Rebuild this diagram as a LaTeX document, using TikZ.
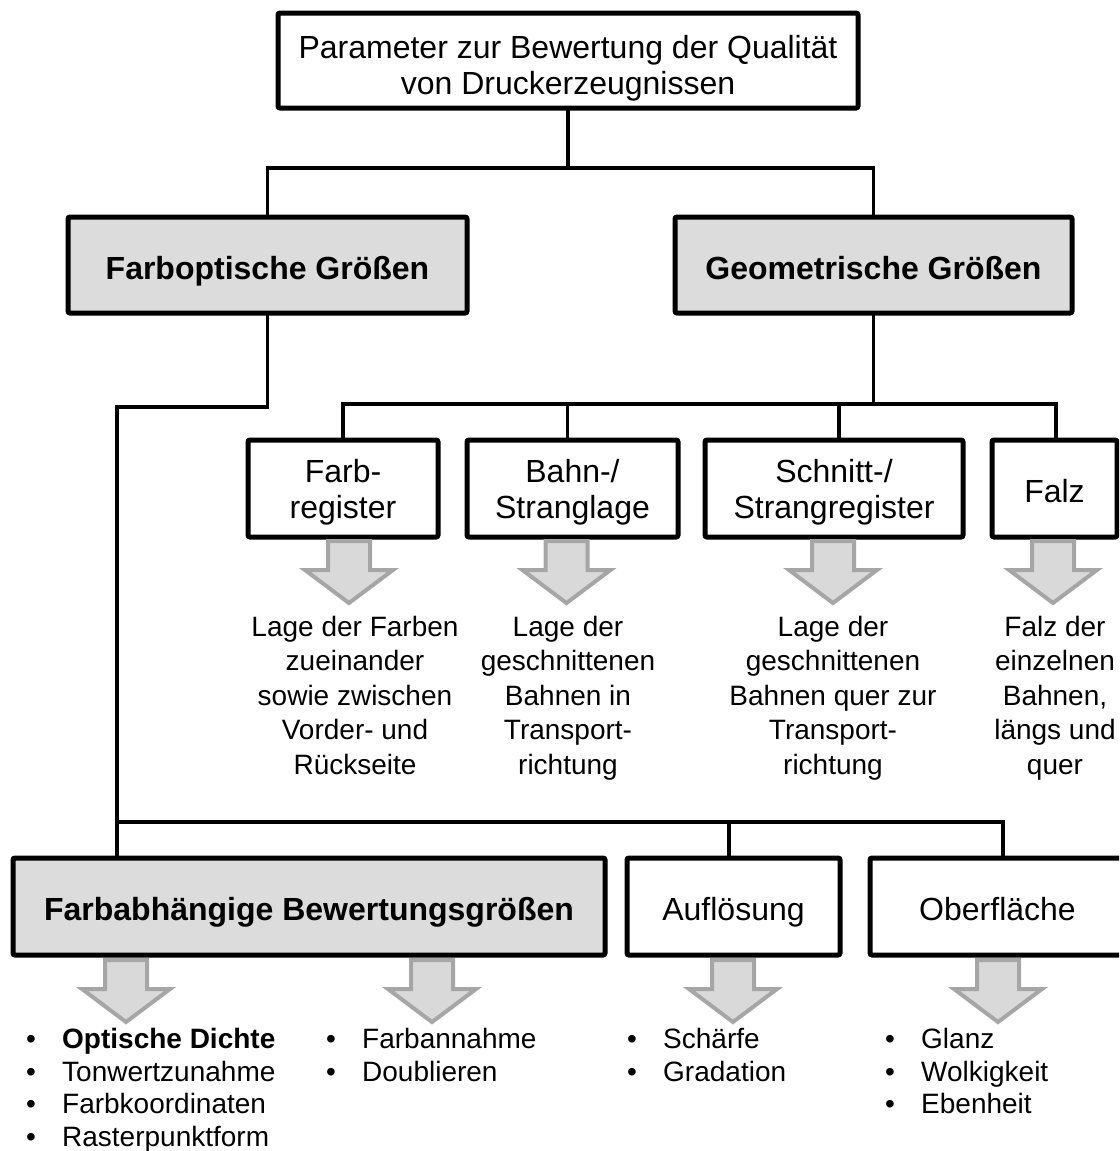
\documentclass[tikz,border=0pt]{standalone}
\usepackage{fontspec}
\setmainfont{Liberation Sans}
\usetikzlibrary{calc}

\definecolor{boxgray}{RGB}{220,220,220}
\definecolor{arrowfill}{RGB}{217,217,217}
\definecolor{arrowline}{RGB}{166,166,166}

% font sizes: box labels, explanatory text, bullet lists
\newcommand\hdfont{\fontsize{32}{36}\selectfont}
\newcommand\txfont{\fontsize{28}{34.5}\selectfont}
\newcommand\lsfont{\fontsize{28}{32.7}\selectfont}
% one entry of a bullet list
\newcommand\bulletentry[1]{\makebox[36pt][l]{•}#1}

\tikzset{
  box/.style={draw, line width=5pt, rounded corners=2pt, fill=white,
    align=center, inner sep=0pt, outer sep=0pt, font=\hdfont},
  oneline/.style={text height=28pt, text depth=1pt},
  twoline/.style={align=flush center, text width=#1,
    text height=20pt, text depth=32pt},
  graybox/.style={box, fill=boxgray, font=\hdfont\bfseries,
    text height=30pt, text depth=1pt},
  conn/.style={line width=3.5pt},
  note/.style={align=center, inner sep=0pt, anchor=north, font=\txfont},
  blist/.style={align=left, inner sep=0pt, anchor=north west, font=\lsfont},
  arrowstyle/.style={fill=arrowfill, draw=arrowline, line width=4pt},
  pics/downarrow/.style={code={
    \draw[arrowstyle] (-21,0) -- (21,0) -- (21,29) -- (44,29) -- (0,62)
      -- (-44,29) -- (-21,29) -- cycle;}}
}

\begin{document}
\begin{tikzpicture}[x=1pt,y=-1pt]
\clip (0,0) rectangle (1119,1151);

% ---- boxes ----
\node[box, align=flush center, text width=570pt, text height=20pt,
  text depth=25pt, minimum width=580pt, minimum height=95pt] (top)
  at (568,60.5) {Parameter zur Bewertung der Qualität\\von Druckerzeugnissen};

\node[graybox, minimum width=399pt, minimum height=96pt] (farb) at (267.5,265)
  {Farboptische Größen};
\node[graybox, minimum width=397pt, minimum height=96pt] (geo) at (873.5,265)
  {Geometrische Größen};

\node[box, twoline=180pt, minimum width=190pt, minimum height=97pt] (freg)
  at (343,488.5) {Farb-\\register};
\node[box, twoline=200pt, minimum width=211pt, minimum height=97pt] (bahn)
  at (572.5,488.5) {Bahn-/\\Stranglage};
\node[box, twoline=248pt, minimum width=258pt, minimum height=97pt] (schnitt)
  at (834,488.5) {Schnitt-/\\Strangregister};
\node[box, oneline, minimum width=125pt, minimum height=97pt] (falz)
  at (1054.5,488.5) {Falz};

\node[graybox, text height=28pt, minimum width=592pt, minimum height=97pt] (fab)
  at (309,906.5) {Farbabhängige Bewertungsgrößen};
\node[box, oneline, minimum width=213pt, minimum height=97pt] (aufl)
  at (733.5,906.5) {Auflösung};
\node[box, oneline, minimum width=255pt, minimum height=97pt] (ober)
  at (997.5,906.5) {Oberfläche};

% ---- connectors ----
\coordinate (busA) at (568,168);
\draw[conn] (top.south) -- (busA);
\draw[conn] (farb.north) |- (busA);
\draw[conn] (geo.north) |- (busA);

\coordinate (busB) at (873.5,404);
\draw[conn] (geo.south) -- (busB);
\draw[conn] (freg.north) |- (busB);
\draw[conn] ($(bahn.north)+(-5,0)$) |- (busB);
\draw[conn] ($(schnitt.north)+(5,0)$) |- (busB);
\draw[conn] ($(falz.north)+(1.5,0)$) |- (busB);

\coordinate (bendL) at (117,407);
\draw[conn] (farb.south) |- (bendL) -- (bendL |- fab.north);

\coordinate (busC) at (117,822);
\draw[conn] (busC) -| ($(aufl.north)+(-4.5,0)$);
\draw[conn] (busC) -| ($(ober.north)+(5.5,0)$);

% ---- block arrows ----
\pic at ($(freg.south)+(6,4)$) {downarrow};
\pic at ($(bahn.south)+(-6,4)$) {downarrow};
\pic at ($(schnitt.south)+(-1,4)$) {downarrow};
\pic at ($(falz.south)+(-1.5,4)$) {downarrow};
\pic at ($(fab.south west)+(113,5)$) {downarrow};
\pic at ($(fab.south west)+(419,5)$) {downarrow};
\pic at ($(aufl.south)+(-0.5,5)$) {downarrow};
\pic at ($(ober.south)+(0.5,5)$) {downarrow};

% ---- explanations ----
\node[note] (tfreg) at (355,616)
  {Lage der Farben\\zueinander\\sowie zwischen\\Vorder- und\\Rückseite};
\node[note] (tbahn) at (568,616)
  {Lage der\\geschnittenen\\Bahnen in\\Transport-\\richtung};
\node[note] (tschnitt) at (833,616)
  {Lage der\\geschnittenen\\Bahnen quer zur\\Transport-\\richtung};
\node[note] (tfalz) at (1055,616)
  {Falz der\\einzelnen\\Bahnen,\\längs und\\quer};

\node[blist] (lfab1) at (26,1028)
  {\bulletentry{\textbf{Optische Dichte}}\\\bulletentry{Tonwertzunahme}\\
   \bulletentry{Farbkoordinaten}\\\bulletentry{Rasterpunktform}};
\node[blist] (lfab2) at (326,1028)
  {\bulletentry{Farbannahme}\\\bulletentry{Doublieren}};
\node[blist] (laufl) at (627,1028)
  {\bulletentry{Schärfe}\\\bulletentry{Gradation}};
\node[blist] (lober) at (885,1028)
  {\bulletentry{Glanz}\\\bulletentry{Wolkigkeit}\\\bulletentry{Ebenheit}};
\end{tikzpicture}
\end{document}
